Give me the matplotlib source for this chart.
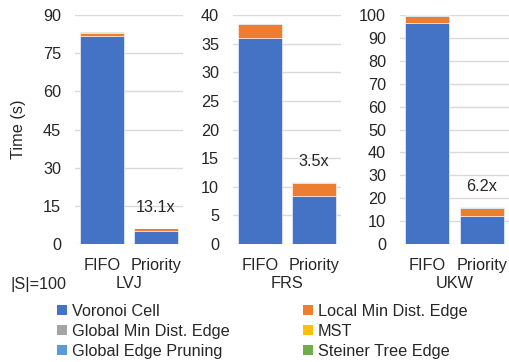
import matplotlib
matplotlib.use("Agg")
import matplotlib.pyplot as plt
from matplotlib.patches import Patch

plt.rcParams['font.family'] = ['Liberation Sans', 'DejaVu Sans']

datasets = ["LVJ", "FRS", "UKW"]
methods = ["FIFO", "Priority"]
components = ["Voronoi Cell", "Local Min Dist. Edge", "Global Min Dist. Edge",
              "MST", "Global Edge Pruning", "Steiner Tree Edge"]
colors = ["#4472C4", "#ED7D31", "#A5A5A5", "#FFC000", "#5B9BD5", "#70AD47"]

# values per dataset: [FIFO, Priority] for each component
voronoi = {"LVJ": [81.7, 5.0], "FRS": [35.9, 8.3], "UKW": [96.3, 12.3]}
local_min = {"LVJ": [1.1, 1.1], "FRS": [2.6, 2.4], "UKW": [3.4, 3.6]}
global_min = {"LVJ": [0.05, 0.02], "FRS": [0.02, 0.02], "UKW": [0.05, 0.02]}
mst = {"LVJ": [0.02, 0.01], "FRS": [0.01, 0.01], "UKW": [0.02, 0.01]}
global_prune = {"LVJ": [0.05, 0.02], "FRS": [0.02, 0.02], "UKW": [0.05, 0.02]}
steiner = {"LVJ": [0.3, 0.15], "FRS": [0.12, 0.1], "UKW": [0.3, 0.2]}
speedups = {"LVJ": "13.1x", "FRS": "3.5x", "UKW": "6.2x"}
ylims = {"LVJ": (90, 15), "FRS": (40, 5), "UKW": (100, 10)}

W, H = 509, 362
FS = 11.7
TC = '#262626'
fig = plt.figure(figsize=(W / 100, H / 100), dpi=100)

axes_px = {"LVJ": (75, 183), "FRS": (233, 341), "UKW": (400, 509)}
top_px, bot_px = 15, 244

series = [voronoi, local_min, global_min, mst, global_prune, steiner]

for ds in datasets:
    l, r = axes_px[ds]
    ax = fig.add_axes([l / W, 1 - bot_px / H, (r - l) / W, (bot_px - top_px) / H])
    bottoms = [0.0, 0.0]
    for s, c in zip(series, colors):
        vals = s[ds]
        ax.bar(range(len(methods)), vals, width=0.815, bottom=bottoms, color=c,
               edgecolor='white', linewidth=0.4, zorder=3)
        bottoms = [b + v for b, v in zip(bottoms, vals)]
    ymax, step = ylims[ds]
    ax.set_ylim(0, ymax)
    ax.set_xlim(-0.5, 1.5)
    ax.set_yticks(range(0, ymax + 1, step))
    ax.yaxis.grid(True, color='#D9D9D9', linewidth=1, zorder=0)
    for sp in ax.spines.values():
        sp.set_visible(False)
    ax.tick_params(axis='y', length=0, pad=10, labelsize=FS, labelcolor=TC)
    ax.tick_params(axis='x', length=0, pad=10, labelsize=FS, labelcolor=TC)
    ax.set_xticks(range(len(methods)))
    ax.set_xticklabels(methods)
    ax.annotate(speedups[ds], xy=(1, bottoms[1]), xytext=(0, 14.5),
                textcoords='offset points', ha='center', va='center', fontsize=FS,
                color=TC)
    ax.text(0.5, (bot_px - 284) / (bot_px - top_px), ds, transform=ax.transAxes,
            ha='center', va='center', fontsize=FS, color=TC)
    if ds == "LVJ":
        ax.set_ylabel("Time (s)", fontsize=FS, color=TC, labelpad=12)

fig.text(10 / W, 1 - 284 / H, "|S|=100", ha='left', va='center', fontsize=FS, color=TC)

handles = [Patch(facecolor=c, edgecolor='none') for c in colors]
order = [0, 2, 4, 1, 3, 5]
fig.legend([handles[i] for i in order], [components[i] for i in order], ncol=2,
           loc='upper left', bbox_to_anchor=(57 / W, 1 - 304 / H), frameon=False,
           fontsize=FS, handlelength=0.6, handleheight=0.6, handletextpad=0.3,
           columnspacing=4.55, labelspacing=0.3, labelcolor=TC, borderpad=0,
           borderaxespad=0)

fig.savefig("out.png", dpi=100)
